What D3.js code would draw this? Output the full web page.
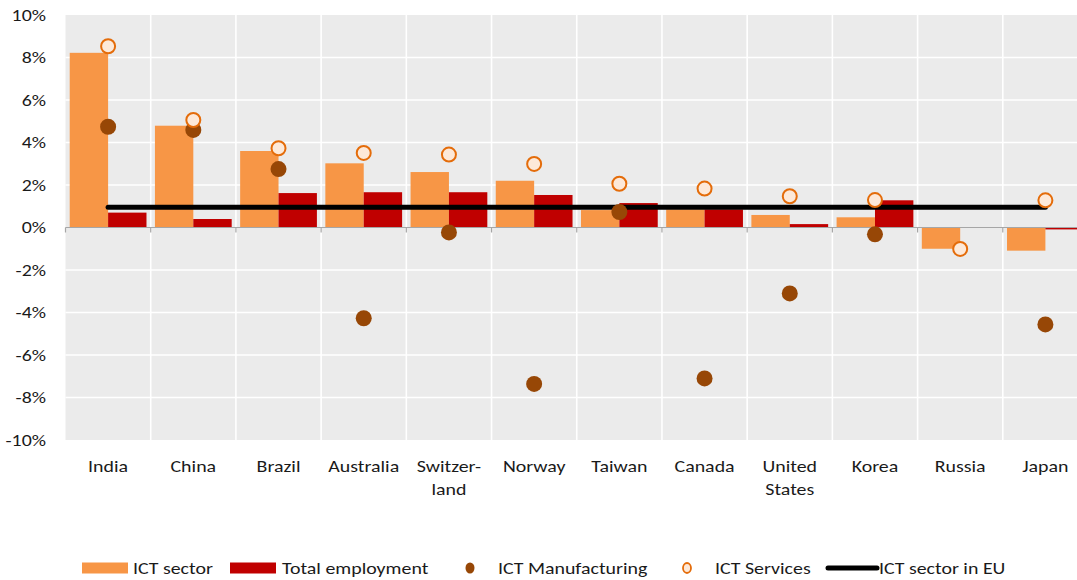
<!DOCTYPE html>
<html>
<head>
<meta charset="utf-8">
<script src="https://cdn.jsdelivr.net/npm/d3@7"></script>
<style>
  html, body { margin: 0; padding: 0; background: #fff; }
  svg { display: block; }
  text { font-family: Carlito, Lato, "Open Sans", sans-serif; fill: #1a1a1a; }
</style>
</head>
<body>
<svg id="chart" width="1077" height="580"></svg>
<script>
// Employment growth by country, ICT sector vs total economy
const countries = ["India", "China", "Brazil", "Australia", "Switzer-\nland", "Norway",
                   "Taiwan", "Canada", "United\nStates", "Korea", "Russia", "Japan"];
const ictSector       = [8.22, 4.79, 3.60, 3.02, 2.61, 2.20, 0.82, 0.85, 0.59, 0.48, -1.00, -1.09];
const totalEmployment = [0.70, 0.40, 1.62, 1.66, 1.66, 1.53, 1.15, 0.85, 0.16, 1.28, -0.02, -0.09];
const ictManufacturing = [4.74, 4.59, 2.75, -4.27, -0.23, -7.36, 0.73, -7.10, -3.10, -0.32, null, -4.56];
const ictServices     = [8.53, 5.06, 3.73, 3.51, 3.43, 2.99, 2.06, 1.83, 1.47, 1.29, -1.01, 1.28];
const ictSectorEU = 0.95;
const yTicks = [-10, -8, -6, -4, -2, 0, 2, 4, 6, 8, 10];
const legendItems = ["ICT sector", "Total employment", "ICT Manufacturing", "ICT Services", "ICT sector in EU"];

const colors = {
  ict: "#F79646", total: "#C00000", manuf: "#974706",
  servStroke: "#E46C0A", servFill: "#FDE9D9", eu: "#000000",
  bg: "#EBEBEB", axis: "#A6A6A6"
};
const FONT_SIZE = "17px";
const TEXT_STRETCH = "scale(1.17,1)";

const svg = d3.select("#chart");
const plot = { left: 65.5, right: 1088, top: 15, bottom: 440 };

const x = d3.scaleBand().domain(countries).range([plot.left, plot.right]).padding(0);
const xs = d3.scaleBand().domain(["ict", "total"]).range([0, x.bandwidth()])
  .paddingInner(0).paddingOuter(0.11);
const y = d3.scaleLinear().domain([-10, 10]).range([plot.bottom, plot.top]);

// background panel
svg.append("rect")
  .attr("x", plot.left).attr("y", plot.top)
  .attr("width", plot.right - plot.left).attr("height", plot.bottom - plot.top)
  .attr("fill", colors.bg);

// horizontal gridlines
svg.append("g").selectAll("line").data(yTicks.filter(t => t !== 0 && t !== -10 && t !== 10))
  .join("line")
  .attr("x1", plot.left).attr("x2", plot.right)
  .attr("y1", d => y(d)).attr("y2", d => y(d))
  .attr("stroke", "#fff").attr("stroke-width", 1.6);

// vertical gridlines at category boundaries
svg.append("g").selectAll("line").data(countries.slice(1))
  .join("line")
  .attr("x1", d => x(d)).attr("x2", d => x(d))
  .attr("y1", plot.top).attr("y2", plot.bottom)
  .attr("stroke", "#fff").attr("stroke-width", 1.6);

// bars
const groups = svg.append("g").selectAll("g").data(countries).join("g")
  .attr("transform", d => `translate(${x(d)},0)`);

groups.append("rect")
  .attr("x", xs("ict")).attr("width", xs.bandwidth())
  .attr("y", (d, i) => y(Math.max(0, ictSector[i])))
  .attr("height", (d, i) => Math.abs(y(ictSector[i]) - y(0)))
  .attr("fill", colors.ict);

groups.append("rect")
  .attr("x", xs("total")).attr("width", xs.bandwidth())
  .attr("y", (d, i) => y(Math.max(0, totalEmployment[i])))
  .attr("height", (d, i) => Math.abs(y(totalEmployment[i]) - y(0)))
  .attr("fill", colors.total);

// zero axis with tick marks
const axisG = svg.append("g").attr("transform", `translate(0,${y(0)})`);
axisG.append("line")
  .attr("x1", plot.left).attr("x2", plot.right)
  .attr("stroke", colors.axis).attr("stroke-width", 1.2);
axisG.selectAll("line.tk").data(countries)
  .join("line").attr("class", "tk")
  .attr("x1", d => x(d)).attr("x2", d => x(d))
  .attr("y1", 0).attr("y2", 5)
  .attr("stroke", colors.axis).attr("stroke-width", 1.2);

// EU reference line
const cx = d => x(d) + x.bandwidth() / 2;
svg.append("line")
  .attr("x1", cx(countries[0])).attr("x2", cx(countries[countries.length - 1]))
  .attr("y1", y(ictSectorEU)).attr("y2", y(ictSectorEU))
  .attr("stroke", colors.eu).attr("stroke-width", 5).attr("stroke-linecap", "round");

// ICT manufacturing points
svg.append("g").selectAll("circle")
  .data(countries.map((c, i) => ({ c, v: ictManufacturing[i] })).filter(d => d.v !== null))
  .join("circle")
  .attr("cx", d => cx(d.c)).attr("cy", d => y(d.v)).attr("r", 8)
  .attr("fill", colors.manuf);

// ICT services points
svg.append("g").selectAll("circle")
  .data(countries.map((c, i) => ({ c, v: ictServices[i] })))
  .join("circle")
  .attr("cx", d => cx(d.c)).attr("cy", d => y(d.v)).attr("r", 7)
  .attr("fill", colors.servFill).attr("stroke", colors.servStroke).attr("stroke-width", 2);

// y axis labels
const yAxis = d3.axisLeft(y).tickValues(yTicks).tickSize(0).tickPadding(0)
  .tickFormat(d => d + "%");
const yG = svg.append("g").attr("transform", `translate(46,0)`).call(yAxis);
yG.select(".domain").remove();
yG.selectAll("text")
  .attr("x", 0)
  .attr("transform", TEXT_STRETCH)
  .style("font-size", FONT_SIZE).style("font-family", null).attr("fill", "#1a1a1a");

// category labels
const labels = svg.append("g").selectAll("g").data(countries).join("g")
  .attr("transform", d => `translate(${cx(d)},472)`)
  .append("text")
  .attr("transform", TEXT_STRETCH)
  .attr("text-anchor", "middle").style("font-size", FONT_SIZE);
labels.each(function (d) {
  const t = d3.select(this);
  d.split("\n").forEach((line, k) => {
    t.append("tspan").attr("x", 0).attr("dy", k === 0 ? 0 : 23).text(line);
  });
});

// legend
const lg = svg.append("g").style("font-size", FONT_SIZE);
const ly = 568;
const legendText = (tx, str) => lg.append("g").attr("transform", `translate(${tx},${ly + 5.5})`)
  .append("text").attr("transform", TEXT_STRETCH).text(str);
lg.append("rect").attr("x", 82).attr("y", ly - 5.5).attr("width", 46).attr("height", 11).attr("fill", colors.ict);
legendText(133, legendItems[0]);
lg.append("rect").attr("x", 230).attr("y", ly - 5.5).attr("width", 46).attr("height", 11).attr("fill", colors.total);
legendText(282, legendItems[1]);
lg.append("ellipse").attr("cx", 470).attr("cy", ly).attr("rx", 4.5).attr("ry", 5.5).attr("fill", colors.manuf);
legendText(498, legendItems[2]);
lg.append("ellipse").attr("cx", 687).attr("cy", ly).attr("rx", 4).attr("ry", 5)
  .attr("fill", colors.servFill).attr("stroke", colors.servStroke).attr("stroke-width", 1.8);
legendText(715, legendItems[3]);
lg.append("line").attr("x1", 828).attr("x2", 877).attr("y1", ly).attr("y2", ly)
  .attr("stroke", colors.eu).attr("stroke-width", 5).attr("stroke-linecap", "round");
legendText(879, legendItems[4]);
</script>
</body>
</html>
